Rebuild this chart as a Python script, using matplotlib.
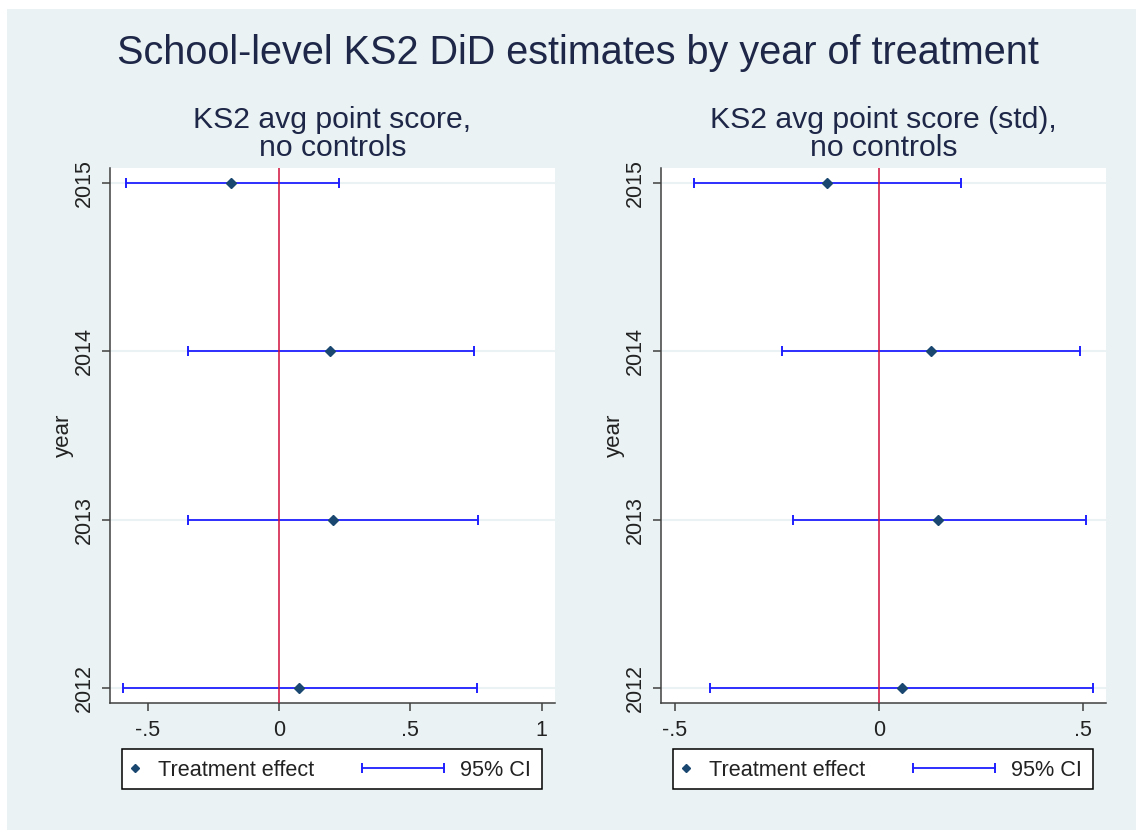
import matplotlib.pyplot as plt
import numpy as np
from matplotlib.lines import Line2D
from matplotlib.patches import Rectangle
from matplotlib.legend_handler import HandlerLine2D

plt.rcParams['font.family'] = ['Liberation Sans', 'DejaVu Sans']

years = [2012, 2013, 2014, 2015]

# KS2 avg point score, no controls
est_raw = [0.076, 0.206, 0.194, -0.183]
lo_raw = [-0.593, -0.347, -0.347, -0.583]
hi_raw = [0.753, 0.758, 0.743, 0.227]

# KS2 avg point score (std), no controls
est_std = [0.0555, 0.145, 0.127, -0.127]
lo_std = [-0.414, -0.211, -0.238, -0.453]
hi_std = [0.523, 0.507, 0.492, 0.201]

main_title = "School-level KS2 DiD estimates by year of treatment"
panel_titles = ["KS2 avg point score,\nno controls", "KS2 avg point score (std),\nno controls"]
xticks_raw = [-0.5, 0, 0.5, 1]
xticks_std = [-0.5, 0, 0.5]
xlabels_raw = ["-.5", "0", ".5", "1"]
xlabels_std = ["-.5", "0", ".5"]
legend_labels = ["Treatment effect", "95% CI"]

bg = '#EAF2F3'
navy = '#1A476F'
ci_blue = '#1F1FFF'
red = '#D0103A'
txt = '#1E2747'

W, H = 1136, 830
fig = plt.figure(figsize=(W / 100, H / 100), dpi=100)
fig.patches.append(Rectangle((7 / W, 0), 1, 1 - 9 / H, transform=fig.transFigure,
                             facecolor=bg, edgecolor='none', zorder=-10))

fig.text(578 / W, 1 - 64 / H, main_title, ha='center', va='baseline',
         fontsize=28.5, color=txt)

panels = [
    (110, est_raw, lo_raw, hi_raw, (-0.644, 1.051), xticks_raw, xlabels_raw, panel_titles[0]),
    (661, est_std, lo_std, hi_std, (-0.534, 0.556), xticks_std, xlabels_std, panel_titles[1]),
]


class DiamondCenter(HandlerLine2D):
    def get_xdata(self, legend, xdescent, ydescent, width, height, fontsize):
        return [-xdescent, -xdescent + width], [-xdescent + 0.5 * width]


for x0, est, lo, hi, xl, xt, xlab, ttl in panels:
    ax = fig.add_axes([x0 / W, 1 - 703 / H, 445 / W, 535 / H])
    est = np.array(est)
    err = [est - np.array(lo), np.array(hi) - est]
    ax.errorbar(est, years, xerr=err, fmt='none', ecolor=ci_blue, elinewidth=1.3,
                capsize=3.8, capthick=1.4, zorder=2)
    ax.axvline(0, color=red, lw=1.1, zorder=3)
    ax.plot(est, years, 'D', color=navy, ms=5.3, zorder=4)

    ax.set_xlim(*xl)
    ax.set_ylim(2011.913, 2015.087)
    ax.set_xticks(xt)
    ax.set_xticklabels(xlab)
    ax.set_yticks(years)
    ax.set_yticklabels([str(y) for y in years], rotation=90, va='center')
    ax.tick_params(axis='both', length=6, width=1.1, color='#404040',
                   labelsize=15.5, labelcolor='#222222', pad=6)
    ax.tick_params(axis='y', pad=5)
    ax.yaxis.grid(True, color=bg, lw=1.5)
    ax.set_axisbelow(True)
    for s in ['top', 'right']:
        ax.spines[s].set_visible(False)
    for s in ['left', 'bottom']:
        ax.spines[s].set_color('#404040')
        ax.spines[s].set_linewidth(1.1)
    ax.set_ylabel("year", fontsize=16, color='#222222', labelpad=0)
    ax.set_title(ttl, fontsize=21.7, color=txt, linespacing=1.0, pad=8.5)

    # legend box
    lx = x0 + 12
    fig.patches.append(Rectangle((lx / W, 1 - 789 / H), 420 / W, 40 / H,
                                 transform=fig.transFigure, facecolor='white',
                                 edgecolor='black', lw=1.1, zorder=5))
    yc = 1 - 770 / H
    h1 = Line2D([], [], marker='D', color=navy, ms=4.3, ls='none')
    fig.legend([h1], [legend_labels[0]], loc='center left',
               bbox_to_anchor=((lx + 2) / W, yc), frameon=False, fontsize=15.6,
               handlelength=1.0, handletextpad=0.58, borderpad=0, borderaxespad=0,
               handler_map={h1: DiamondCenter()}, labelcolor='#222222')
    h2 = Line2D([], [], marker='|', color=ci_blue, lw=1.3, ms=7.6, mew=1.4)
    fig.legend([h2], [legend_labels[1]], loc='center left',
               bbox_to_anchor=((lx + 233.5) / W, yc), frameon=False, fontsize=15.6,
               handlelength=4.4, handletextpad=0.42, borderpad=0, borderaxespad=0,
               handler_map={h2: HandlerLine2D(numpoints=2, marker_pad=0.3)},
               labelcolor='#222222')

fig.savefig('out.png', dpi=100)
